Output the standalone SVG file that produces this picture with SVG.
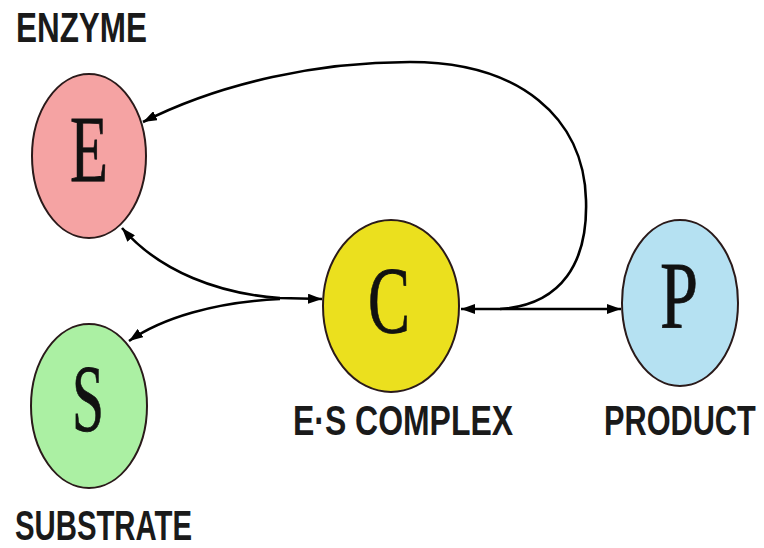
<svg xmlns="http://www.w3.org/2000/svg" width="764" height="548" viewBox="0 0 764 548">
<defs>
<marker id="arr" viewBox="0 0 14 10" refX="14" refY="5" markerWidth="14" markerHeight="10" markerUnits="userSpaceOnUse" orient="auto-start-reverse">
<path d="M0,0 L14,5 L0,10 Z" fill="#000"/>
</marker>
</defs>
<style>
.node{stroke:#2a1a1a;stroke-width:2}
.letter{font-family:"Liberation Serif","Times New Roman",serif;font-size:96px;fill:#111;stroke:#111;stroke-width:0.8;text-anchor:middle}
.label{font-family:"Liberation Sans",Arial,sans-serif;font-weight:bold;font-size:42px;fill:#1a1a1a}
.edge{fill:none;stroke:#000;stroke-width:2.6}
</style>
<rect width="764" height="548" fill="#fff"/>
<g id="connectors">
<path class="edge" d="M122,228 C160,272 220,294 280,298 L322,299" marker-start="url(#arr)" marker-end="url(#arr)"/>
<path class="edge" d="M280,299 C215,302 162,318 129,341" marker-end="url(#arr)"/>
<path class="edge" d="M461,309 L621,309" marker-start="url(#arr)" marker-end="url(#arr)"/>
<path class="edge" d="M500,309 C562,305 588,262 586,200 C584,118 520,62 410,62 C320,62 222,82 143,122" marker-end="url(#arr)"/>
</g>
<g id="node-E">
<ellipse class="node" cx="89" cy="156" rx="57" ry="82" fill="#f5a3a3"/>
<text class="letter" x="89" y="182" textLength="38" lengthAdjust="spacingAndGlyphs">E</text>
<text class="label" x="16" y="42" textLength="131" lengthAdjust="spacingAndGlyphs">ENZYME</text>
</g>
<g id="node-S">
<ellipse class="node" cx="89" cy="406" rx="58" ry="82" fill="#abf0a3"/>
<text class="letter" x="88" y="431" textLength="32" lengthAdjust="spacingAndGlyphs">S</text>
<text class="label" x="15" y="540" textLength="177" lengthAdjust="spacingAndGlyphs">SUBSTRATE</text>
</g>
<g id="node-C">
<ellipse class="node" cx="391" cy="306" rx="68" ry="86" fill="#ebe01e"/>
<text class="letter" x="389" y="333" textLength="42" lengthAdjust="spacingAndGlyphs">C</text>
<text class="label" x="293" y="435" textLength="220" lengthAdjust="spacingAndGlyphs">E·S COMPLEX</text>
</g>
<g id="node-P">
<ellipse class="node" cx="680" cy="303" rx="58" ry="83" fill="#b5e1f2"/>
<text class="letter" x="679" y="328" textLength="38" lengthAdjust="spacingAndGlyphs">P</text>
<text class="label" transform="translate(604,435) scale(1,1.37)" style="font-size:30.7px">PRODUCT</text>
</g>
</svg>
